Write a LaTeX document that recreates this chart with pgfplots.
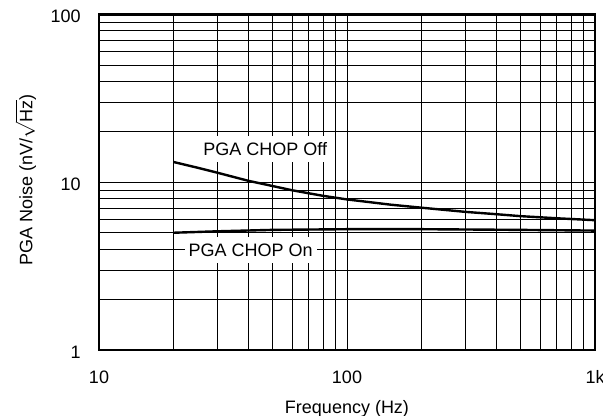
\documentclass[border=0pt]{standalone}
\usepackage{pgfplots}
\pgfplotsset{compat=1.18}
\usepackage{fontspec}
\setmainfont{Liberation Sans}
\begin{document}
\begin{tikzpicture}
\begin{axis}[
  xmode=log, ymode=log,
  scale only axis,
  width=372pt, height=251.625pt,
  xmin=10, xmax=1000, ymin=1, ymax=100,
  xtick={10,100,1000}, xticklabels={10,100,1k},
  ytick={1,10,100}, yticklabels={1,10,100},
  grid=both,
  major grid style={black, line width=0.6pt},
  minor grid style={black, line width=0.6pt},
  major tick length=0pt, minor tick length=0pt,
  axis line style={line width=1.9pt},
  font=\fontsize{13.5}{16}\selectfont,
  /pgf/number format/assume math mode=true,
  xticklabel style={anchor=base, inner sep=0pt, yshift=-25.5pt},
  yticklabel style={anchor=east, inner sep=0pt, xshift=-13.5pt, yshift=-1.5pt},
  xlabel={Frequency (Hz)},
  xlabel style={at={(axis description cs:0.5,-0.1887)}, anchor=base, inner sep=0pt},
  ylabel={PGA Noise (nV/$\sqrt{\mbox{Hz}}$)},
  ylabel style={at={(axis description cs:-0.148,0.5067)}, anchor=center, inner sep=0pt},
]
\addplot[black, line width=1.8pt] coordinates {
 (20,13.2) (25,12.2) (30,11.4) (40,10.2) (50,9.5) (60,8.96) (70,8.6) (80,8.3)
 (100,7.9) (150,7.35) (200,7.05) (300,6.66) (400,6.45) (500,6.28) (700,6.1) (1000,5.94)
};
\addplot[black, line width=1.8pt] coordinates {
 (20,5.0) (30,5.1) (50,5.2) (100,5.25) (200,5.25) (500,5.2) (1000,5.15)
};
\node[fill=white, inner xsep=3pt, inner ysep=5pt] at (axis cs:46.8,15.74) {PGA CHOP Off};
\node[fill=white, inner xsep=3pt, inner ysep=5pt] at (axis cs:40.9,3.93) {PGA CHOP On};
\coordinate (sw) at (rel axis cs:0,0);
\end{axis}
\pgfresetboundingbox
\path[use as bounding box] ([shift={(-74.25pt,-49.5pt)}]sw) rectangle ([shift={(378pt,262.5pt)}]sw);
\end{tikzpicture}
\end{document}
